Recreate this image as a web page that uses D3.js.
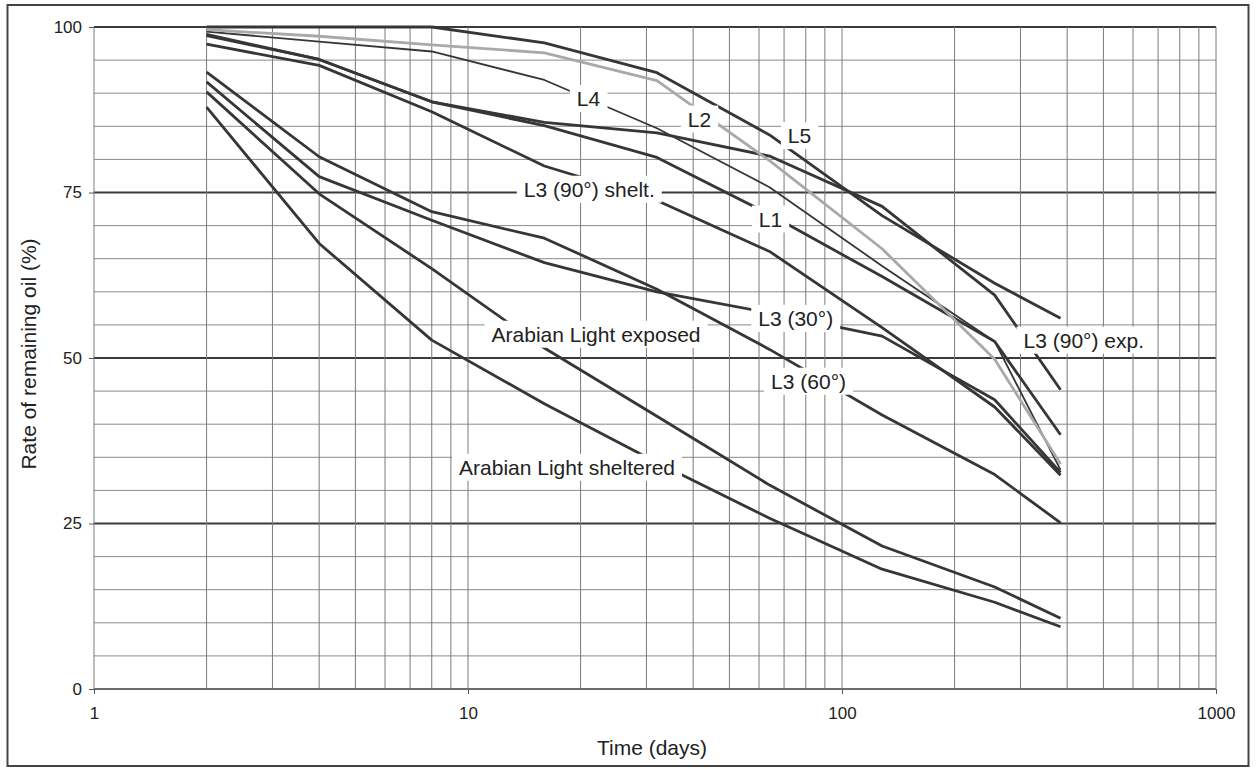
<!DOCTYPE html>
<html>
<head>
<meta charset="utf-8">
<script src="https://cdn.jsdelivr.net/npm/d3@7"></script>
<style>
  body { margin: 0; background: #fff; }
  text { font-family: "Liberation Sans", Arial, sans-serif; fill: #222; }
</style>
</head>
<body>
<div id="chart"></div>
<script>
// Sampling days (log x axis)
const days = [2, 4, 8, 16, 32, 64, 128, 256, 384];

// Remaining oil (%) per series
const l1 = [98.7, 95.1, 88.7, 85.1, 80.3, 71.7, 62.3, 52.5, 38.4];
const l2 = [99.6, 98.6, 97.3, 96.1, 91.9, 79.8, 66.5, 49.8, 34.0];
const l3_30 = [91.7, 77.4, 70.8, 64.4, 60.0, 56.8, 53.3, 43.7, 32.7];
const l3_60 = [93.2, 80.4, 72.1, 68.1, 60.4, 51.3, 41.4, 32.4, 25.1];
const l3_90exp = [98.9, 95.1, 88.7, 85.6, 84.0, 80.5, 72.9, 59.5, 45.2];
const l3_90shelt = [97.4, 94.2, 87.2, 79.0, 73.8, 66.1, 54.6, 42.6, 32.3];
const l4 = [99.3, 97.8, 96.3, 92.0, 84.7, 75.8, 63.9, 52.5, 33.1];
const l5 = [100, 100, 100, 97.6, 93.1, 83.7, 71.5, 61.3, 56.0];
const alExposed = [90.2, 74.8, 63.5, 51.5, 41.2, 30.8, 21.6, 15.4, 10.7];
const alSheltered = [87.9, 67.3, 52.7, 43.1, 34.2, 25.8, 18.1, 13.1, 9.4];

// Label text and where it sits on its line (days, %)
const labelNames = ["L4", "L2", "L5", "L3 (90°) shelt.", "L1", "L3 (30°)", "L3 (60°)",
    "L3 (90°) exp.", "Arabian Light exposed", "Arabian Light sheltered"];
const labelDays = [21, 41.6, 77, 21.1, 64.4, 75.2, 81.4, 443, 22, 18.4];
const labelValues = [89.2, 86.1, 83.6, 75.5, 71.0, 56.0, 46.5, 52.7, 53.6, 33.5];

const yTicks = [0, 25, 50, 75, 100];
const xTicks = [1, 10, 100, 1000];

const series = [
    {name: "L1", values: l1},
    {name: "L3 (30°)", values: l3_30},
    {name: "L3 (60°)", values: l3_60},
    {name: "L3 (90°) exp.", values: l3_90exp},
    {name: "L3 (90°) shelt.", values: l3_90shelt},
    {name: "L5", values: l5},
    {name: "Arabian Light exposed", values: alExposed},
    {name: "Arabian Light sheltered", values: alSheltered},
    {name: "L4", values: l4, thin: true},
    {name: "L2", values: l2, grey: true}
];

const W = 1257, H = 769;
const margin = {top: 27, right: 41, bottom: 80, left: 94};
const width = W - margin.left - margin.right;
const height = H - margin.top - margin.bottom;

const root = d3.select("#chart")
    .append("svg")
    .attr("width", W)
    .attr("height", H);

// outer frame
root.append("rect")
    .attr("x", 7.5).attr("y", 5)
    .attr("width", 1241).attr("height", 761)
    .attr("fill", "none")
    .attr("stroke", "#444")
    .attr("stroke-width", 2);

const svg = root.append("g")
    .attr("transform", `translate(${margin.left},${margin.top})`);

const xScale = d3.scaleLog().domain([1, 1000]).range([0, width]);
const yScale = d3.scaleLinear().domain([0, 100]).range([height, 0]);

// grid
const hGrid = d3.range(0, 101, 5);
svg.append("g").selectAll("line")
    .data(hGrid)
    .enter().append("line")
    .attr("x1", 0).attr("x2", width)
    .attr("y1", d => yScale(d)).attr("y2", d => yScale(d))
    .attr("stroke", d => d % 25 === 0 ? "#3a3a3a" : "#8a8a8a")
    .attr("stroke-width", d => d % 25 === 0 ? (d === 0 ? 1.5 : 2) : 1);

const vGrid = [];
[1, 10, 100].forEach(p => d3.range(1, 10).forEach(k => vGrid.push(k * p)));
vGrid.push(1000);
svg.append("g").selectAll("line")
    .data(vGrid)
    .enter().append("line")
    .attr("x1", d => xScale(d)).attr("x2", d => xScale(d))
    .attr("y1", 0).attr("y2", height)
    .attr("stroke", "#7a7a7a")
    .attr("stroke-width", 1);

// axes
const xAxis = d3.axisBottom(xScale)
    .tickValues(xTicks)
    .tickFormat(d3.format("d"))
    .tickSize(5)
    .tickPadding(13);
const yAxis = d3.axisLeft(yScale)
    .tickValues(yTicks)
    .tickSize(5)
    .tickPadding(7);

const gx = svg.append("g")
    .attr("transform", `translate(0, ${height})`)
    .call(xAxis);
const gy = svg.append("g").call(yAxis);
[gx, gy].forEach(g => {
    g.select(".domain").remove();
    g.selectAll(".tick line").attr("stroke", "#555");
    g.selectAll(".tick text")
        .attr("font-family", "Liberation Sans, Arial, sans-serif")
        .attr("font-size", 17)
        .attr("fill", "#222");
});

// lines
const line = d3.line()
    .x((d, i) => xScale(days[i]))
    .y(d => yScale(d));

svg.append("g").selectAll("path")
    .data(series)
    .enter().append("path")
    .attr("d", d => line(d.values))
    .attr("fill", "none")
    .attr("stroke", d => d.grey ? "#a9a9a9" : "#363636")
    .attr("stroke-width", d => d.thin ? 1.8 : 2.8)
    .attr("stroke-linejoin", "round");

// labels with white boxes over the lines
const labels = svg.append("g");
labelNames.forEach((name, i) => {
    const g = labels.append("g");
    const t = g.append("text")
        .attr("x", xScale(labelDays[i]))
        .attr("y", yScale(labelValues[i]))
        .attr("dy", "0.36em")
        .attr("text-anchor", "middle")
        .attr("font-size", 21)
        .text(name);
    const b = t.node().getBBox();
    g.insert("rect", "text")
        .attr("x", b.x - 7).attr("y", b.y - 2)
        .attr("width", b.width + 14).attr("height", b.height + 4)
        .attr("fill", "#fff");
});

// axis titles
root.append("text")
    .attr("x", 652).attr("y", 755)
    .attr("text-anchor", "middle")
    .attr("font-size", 21)
    .text("Time (days)");

root.append("text")
    .attr("transform", "translate(36, 354) rotate(-90)")
    .attr("text-anchor", "middle")
    .attr("font-size", 21)
    .text("Rate of remaining oil (%)");
</script>
</body>
</html>
